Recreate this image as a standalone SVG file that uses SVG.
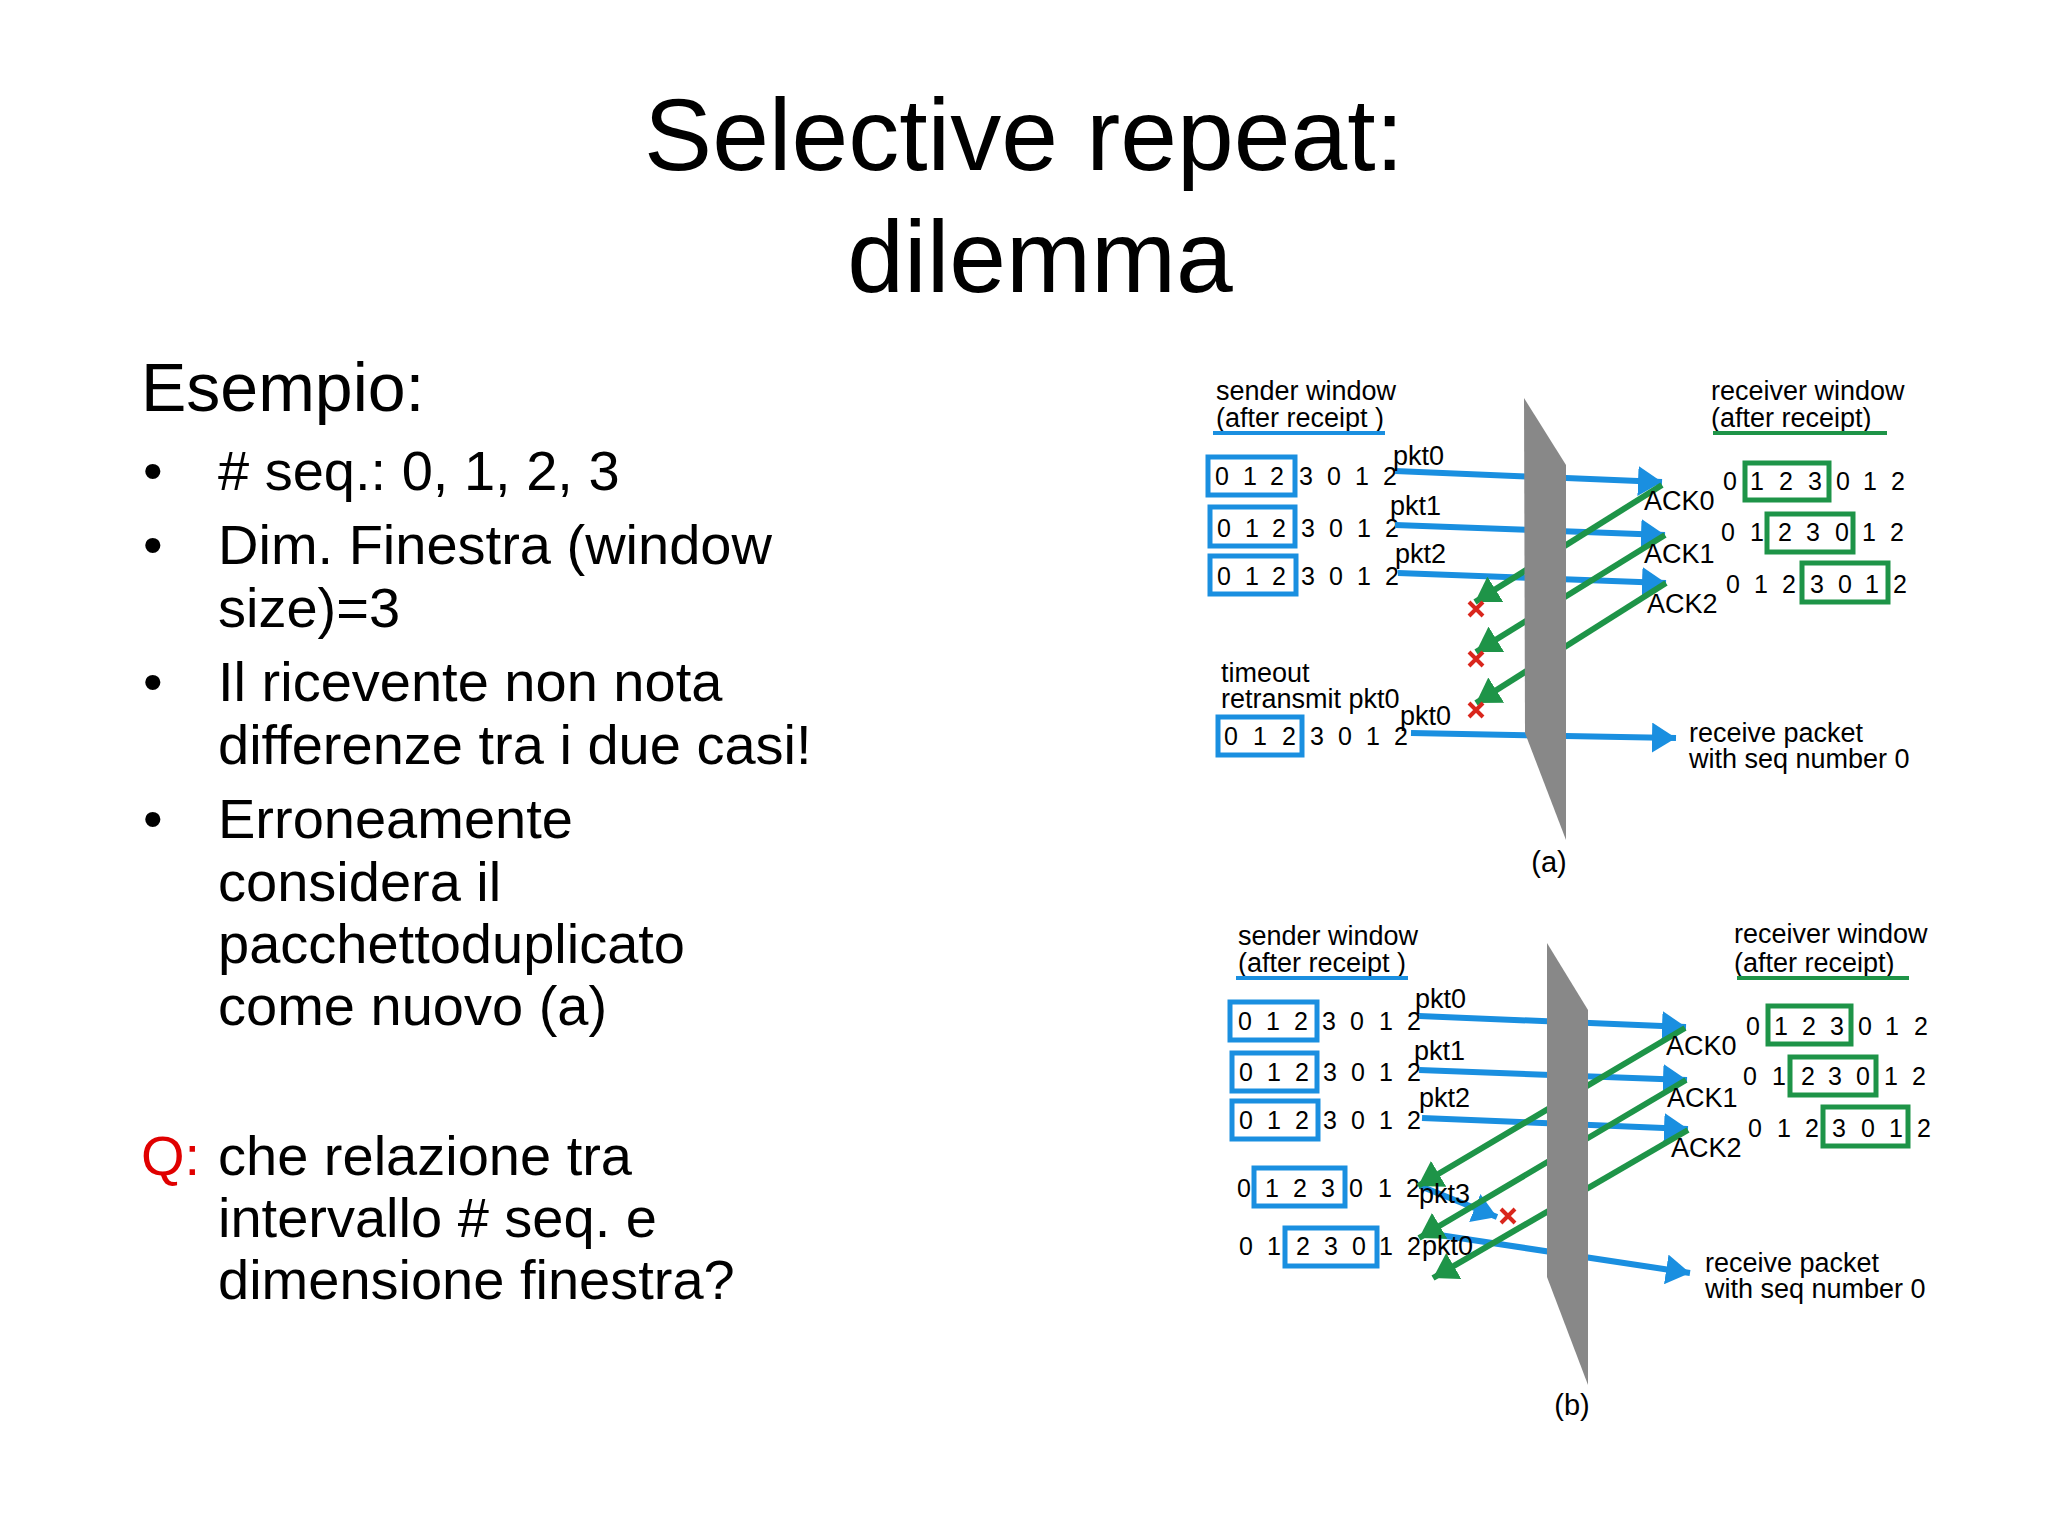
<svg xmlns="http://www.w3.org/2000/svg" width="2048" height="1536" viewBox="0 0 2048 1536">
<style>
text{font-family:"Liberation Sans",Arial,sans-serif;fill:#000}
.t{font-size:102px;text-anchor:middle}
.b{font-size:56px}
.s{font-size:27px}
.d{font-size:25px;text-anchor:middle}
.p{font-size:29px;text-anchor:middle}
.bb{fill:none;stroke:#1a8fe0;stroke-width:5}
.gb{fill:none;stroke:#1e9448;stroke-width:5}
.bl{stroke:#1a8fe0;stroke-width:6;marker-end:url(#ab)}
.gl{stroke:#1e9448;stroke-width:6;marker-end:url(#ag)}
.x{stroke:#d9261c;stroke-width:4}
.slab{fill:#888}
</style>
<defs>
<marker id="ab" markerUnits="userSpaceOnUse" markerWidth="26" markerHeight="30" refX="24" refY="15" orient="auto"><path d="M0,0 L24,15 L0,30 z" fill="#1a8fe0"/></marker>
<marker id="ag" markerUnits="userSpaceOnUse" markerWidth="26" markerHeight="30" refX="24" refY="15" orient="auto"><path d="M0,0 L24,15 L0,30 z" fill="#1e9448"/></marker>
</defs>
<rect width="2048" height="1536" fill="#fff"/>
<g id="title">
<text class="t" x="1024" y="170">Selective repeat:</text>
<text class="t" x="1040" y="292">dilemma</text>
</g>
<g id="bullets">
<text x="141" y="411" style="font-size:68px">Esempio:</text>
<text class="b" x="143" y="490">•</text><text class="b" x="218" y="490"># seq.: 0, 1, 2, 3</text>
<text class="b" x="143" y="564">•</text><text class="b" x="218" y="564">Dim. Finestra (window</text>
<text class="b" x="218" y="627">size)=3</text>
<text class="b" x="143" y="701">•</text><text class="b" x="218" y="701">Il ricevente non nota</text>
<text class="b" x="218" y="764">differenze tra i due casi!</text>
<text class="b" x="143" y="838">•</text><text class="b" x="218" y="838">Erroneamente</text>
<text class="b" x="218" y="901">considera il</text>
<text class="b" x="218" y="963">pacchettoduplicato</text>
<text class="b" x="218" y="1025">come nuovo (a)</text>
<text class="b" x="141" y="1175" style="fill:#e00000">Q:</text><text class="b" x="218" y="1175">che relazione tra</text>
<text class="b" x="218" y="1237">intervallo # seq. e</text>
<text class="b" x="218" y="1299">dimensione finestra?</text>
</g>

<!-- Diagram (a) -->
<g id="a-labels">
<text class="s" x="1216" y="400">sender window</text>
<text class="s" x="1216" y="427">(after receipt )</text>
<line x1="1213" y1="433" x2="1385" y2="433" stroke="#1a8fe0" stroke-width="4"/>
<text class="s" x="1711" y="400">receiver window</text>
<text class="s" x="1711" y="427">(after receipt)</text>
<line x1="1713" y1="433" x2="1887" y2="433" stroke="#1e9448" stroke-width="4"/>
<text class="s" x="1221" y="682">timeout</text>
<text class="s" x="1221" y="708">retransmit pkt0</text>
<text class="s" x="1689" y="742">receive packet</text>
<text class="s" x="1689" y="768">with seq number 0</text>
<text class="p" x="1549" y="872">(a)</text>
</g>
<g id="a-sender">
<rect class="bb" x="1208" y="457" width="87" height="38"/>
<text class="d" y="485"><tspan x="1222">0</tspan><tspan x="1250">1</tspan><tspan x="1277">2</tspan><tspan x="1306">3</tspan><tspan x="1334">0</tspan><tspan x="1362">1</tspan><tspan x="1390">2</tspan></text>
<rect class="bb" x="1210" y="507" width="85" height="39"/>
<text class="d" y="537"><tspan x="1224">0</tspan><tspan x="1252">1</tspan><tspan x="1279">2</tspan><tspan x="1308">3</tspan><tspan x="1336">0</tspan><tspan x="1364">1</tspan><tspan x="1392">2</tspan></text>
<rect class="bb" x="1210" y="556" width="86" height="38"/>
<text class="d" y="585"><tspan x="1224">0</tspan><tspan x="1252">1</tspan><tspan x="1279">2</tspan><tspan x="1308">3</tspan><tspan x="1336">0</tspan><tspan x="1364">1</tspan><tspan x="1392">2</tspan></text>
<rect class="bb" x="1218" y="717" width="84" height="38"/>
<text class="d" y="745"><tspan x="1231">0</tspan><tspan x="1260">1</tspan><tspan x="1289">2</tspan><tspan x="1317">3</tspan><tspan x="1345">0</tspan><tspan x="1373">1</tspan><tspan x="1401">2</tspan></text>
</g>
<g id="a-receiver">
<rect class="gb" x="1745" y="463" width="84" height="37"/>
<text class="d" y="490"><tspan x="1730">0</tspan><tspan x="1757">1</tspan><tspan x="1786">2</tspan><tspan x="1815">3</tspan><tspan x="1843">0</tspan><tspan x="1870">1</tspan><tspan x="1898">2</tspan></text>
<rect class="gb" x="1767" y="514" width="86" height="38"/>
<text class="d" y="541"><tspan x="1728">0</tspan><tspan x="1757">1</tspan><tspan x="1785">2</tspan><tspan x="1813">3</tspan><tspan x="1842">0</tspan><tspan x="1869">1</tspan><tspan x="1897">2</tspan></text>
<rect class="gb" x="1802" y="563" width="86" height="39"/>
<text class="d" y="593"><tspan x="1733">0</tspan><tspan x="1761">1</tspan><tspan x="1789">2</tspan><tspan x="1817">3</tspan><tspan x="1845">0</tspan><tspan x="1872">1</tspan><tspan x="1900">2</tspan></text>
</g>
<g id="a-connectors">
<line class="bl" x1="1395" y1="471" x2="1662" y2="482"/>
<line class="bl" x1="1395" y1="525" x2="1665" y2="535"/>
<line class="bl" x1="1398" y1="573" x2="1666" y2="583"/>
<line class="bl" x1="1411" y1="733" x2="1676" y2="738"/>
<line class="gl" x1="1662" y1="485" x2="1475" y2="602"/>
<line class="gl" x1="1665" y1="535" x2="1476" y2="652"/>
<line class="gl" x1="1666" y1="583" x2="1476" y2="703"/>
</g>
<g id="a-slab"><polygon class="slab" points="1524,398 1566,465 1566,840 1525,733"/></g>
<g id="a-marks">
<text class="s" x="1393" y="465">pkt0</text>
<text class="s" x="1390" y="515">pkt1</text>
<text class="s" x="1395" y="563">pkt2</text>
<text class="s" x="1400" y="725">pkt0</text>
<text class="s" x="1644" y="510">ACK0</text>
<text class="s" x="1644" y="563">ACK1</text>
<text class="s" x="1647" y="613">ACK2</text>
<path class="x" d="M1469,602 L1483,616 M1483,602 L1469,616"/>
<path class="x" d="M1469,652 L1483,666 M1483,652 L1469,666"/>
<path class="x" d="M1469,703 L1483,717 M1483,703 L1469,717"/>
</g>

<!-- Diagram (b) -->
<g id="b-labels">
<text class="s" x="1238" y="945">sender window</text>
<text class="s" x="1238" y="972">(after receipt )</text>
<line x1="1236" y1="978" x2="1408" y2="978" stroke="#1a8fe0" stroke-width="4"/>
<text class="s" x="1734" y="943">receiver window</text>
<text class="s" x="1734" y="972">(after receipt)</text>
<line x1="1737" y1="978" x2="1909" y2="978" stroke="#1e9448" stroke-width="4"/>
<text class="s" x="1705" y="1272">receive packet</text>
<text class="s" x="1705" y="1298">with seq number 0</text>
<text class="p" x="1572" y="1415">(b)</text>
</g>
<g id="b-sender">
<rect class="bb" x="1230" y="1002" width="87" height="38"/>
<text class="d" y="1030"><tspan x="1245">0</tspan><tspan x="1273">1</tspan><tspan x="1301">2</tspan><tspan x="1329">3</tspan><tspan x="1357">0</tspan><tspan x="1386">1</tspan><tspan x="1414">2</tspan></text>
<rect class="bb" x="1232" y="1053" width="85" height="38"/>
<text class="d" y="1081"><tspan x="1246">0</tspan><tspan x="1274">1</tspan><tspan x="1302">2</tspan><tspan x="1330">3</tspan><tspan x="1358">0</tspan><tspan x="1386">1</tspan><tspan x="1414">2</tspan></text>
<rect class="bb" x="1232" y="1101" width="86" height="38"/>
<text class="d" y="1129"><tspan x="1246">0</tspan><tspan x="1274">1</tspan><tspan x="1302">2</tspan><tspan x="1330">3</tspan><tspan x="1358">0</tspan><tspan x="1386">1</tspan><tspan x="1414">2</tspan></text>
<rect class="bb" x="1254" y="1168" width="91" height="38"/>
<text class="d" y="1197"><tspan x="1244">0</tspan><tspan x="1272">1</tspan><tspan x="1300">2</tspan><tspan x="1328">3</tspan><tspan x="1356">0</tspan><tspan x="1385">1</tspan><tspan x="1413">2</tspan></text>
<rect class="bb" x="1285" y="1228" width="92" height="38"/>
<text class="d" y="1255"><tspan x="1246">0</tspan><tspan x="1274">1</tspan><tspan x="1303">2</tspan><tspan x="1331">3</tspan><tspan x="1359">0</tspan><tspan x="1386">1</tspan><tspan x="1414">2</tspan></text>
</g>
<g id="b-receiver">
<rect class="gb" x="1768" y="1006" width="83" height="38"/>
<text class="d" y="1035"><tspan x="1753">0</tspan><tspan x="1781">1</tspan><tspan x="1809">2</tspan><tspan x="1837">3</tspan><tspan x="1865">0</tspan><tspan x="1892">1</tspan><tspan x="1921">2</tspan></text>
<rect class="gb" x="1790" y="1057" width="86" height="38"/>
<text class="d" y="1085"><tspan x="1750">0</tspan><tspan x="1779">1</tspan><tspan x="1808">2</tspan><tspan x="1835">3</tspan><tspan x="1863">0</tspan><tspan x="1891">1</tspan><tspan x="1919">2</tspan></text>
<rect class="gb" x="1823" y="1107" width="85" height="39"/>
<text class="d" y="1137"><tspan x="1755">0</tspan><tspan x="1784">1</tspan><tspan x="1812">2</tspan><tspan x="1839">3</tspan><tspan x="1868">0</tspan><tspan x="1896">1</tspan><tspan x="1924">2</tspan></text>
</g>
<g id="b-connectors">
<line class="bl" x1="1419" y1="1016" x2="1686" y2="1027"/>
<line class="bl" x1="1419" y1="1070" x2="1687" y2="1080"/>
<line class="bl" x1="1422" y1="1118" x2="1688" y2="1129"/>
<line class="bl" x1="1420" y1="1186" x2="1497" y2="1217"/>
<line class="bl" x1="1426" y1="1233" x2="1690" y2="1273"/>
<line class="gl" x1="1685" y1="1028" x2="1418" y2="1186"/>
<line class="gl" x1="1686" y1="1080" x2="1419" y2="1238"/>
<line class="gl" x1="1688" y1="1130" x2="1433" y2="1278"/>
</g>
<g id="b-slab"><polygon class="slab" points="1547,943 1588,1010 1588,1385 1547,1277"/></g>
<g id="b-marks">
<text class="s" x="1415" y="1008">pkt0</text>
<text class="s" x="1414" y="1060">pkt1</text>
<text class="s" x="1419" y="1107">pkt2</text>
<text class="s" x="1419" y="1203">pkt3</text>
<text class="s" x="1422" y="1255">pkt0</text>
<text class="s" x="1666" y="1055">ACK0</text>
<text class="s" x="1667" y="1107">ACK1</text>
<text class="s" x="1671" y="1157">ACK2</text>
<path class="x" d="M1501,1209 L1515,1223 M1515,1209 L1501,1223"/>
</g>
</svg>
